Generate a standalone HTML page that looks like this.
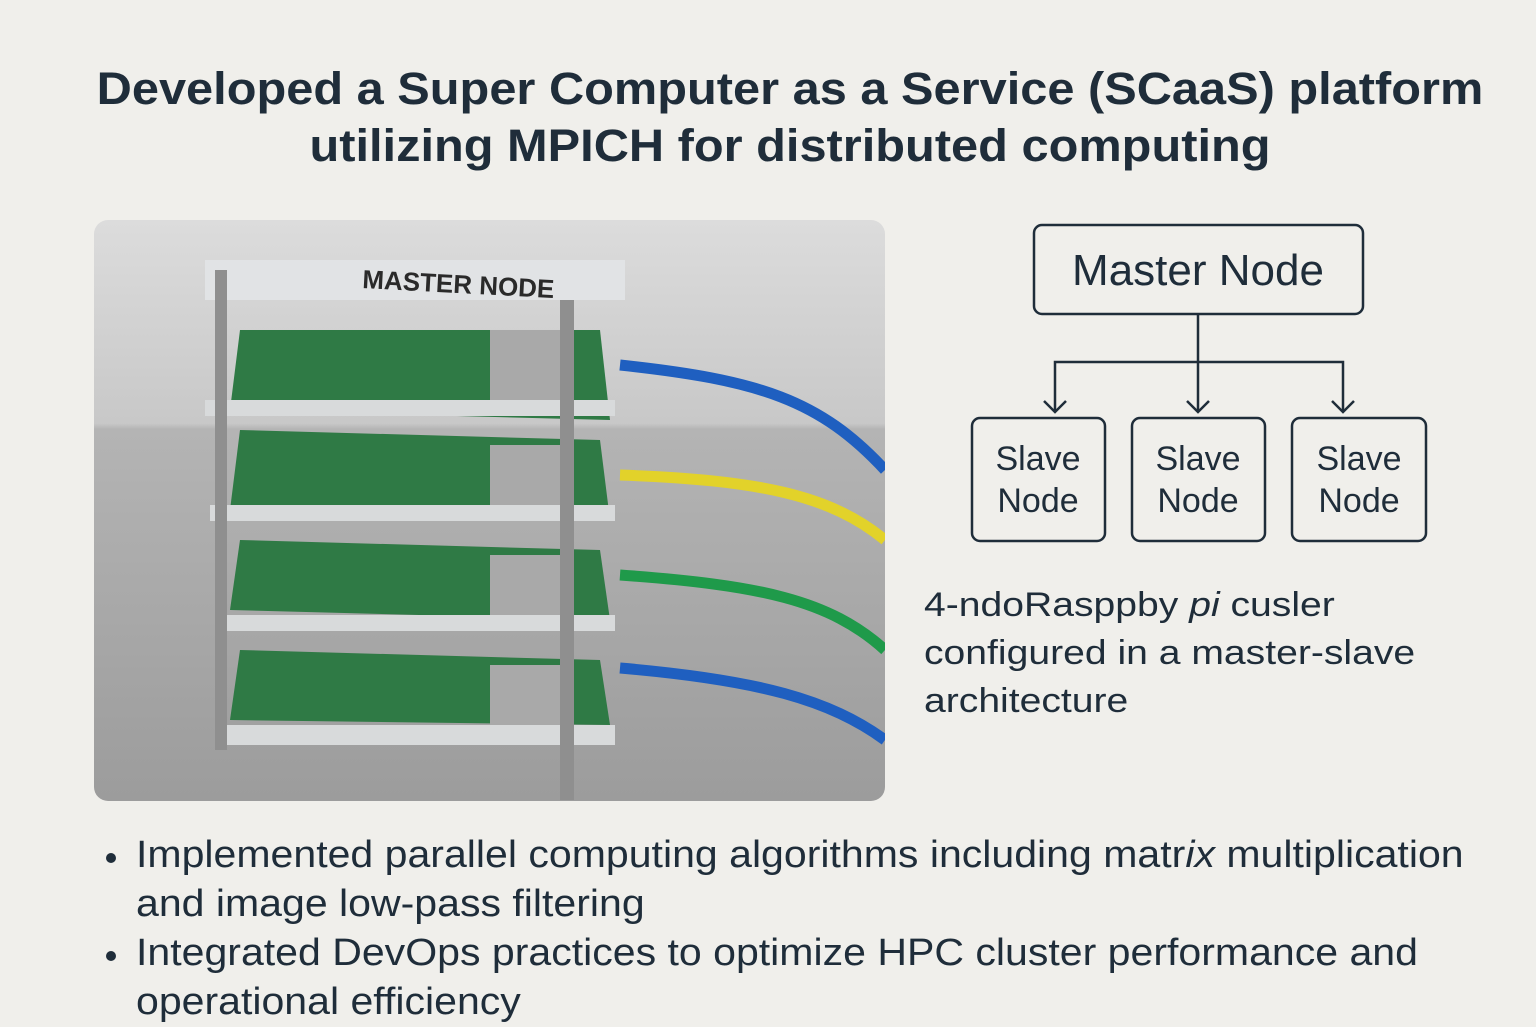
<!DOCTYPE html>
<html><head><meta charset="utf-8"><style>
html,body{margin:0;padding:0}
body{width:1536px;height:1024px;background:#f0efeb;position:relative;overflow:hidden;font-family:"Liberation Sans","DejaVu Sans",sans-serif;color:#1f2d3a}
.t{position:absolute;left:0;width:1580px;text-align:center;font-weight:bold;font-size:45px;line-height:57px;top:60px;transform:scaleX(1.083);transform-origin:790px 0}
.txt{position:absolute;white-space:nowrap;transform-origin:0 0}
</style></head><body>
<div class="t">Developed a Super Computer as a Service (SCaaS) platform<br>utilizing MPICH for distributed computing</div>

<svg style="position:absolute;left:0;top:0" width="1536" height="1024">
<defs>
<linearGradient id="bg" x1="0" y1="0" x2="0" y2="1">
<stop offset="0" stop-color="#dcdcdc"/><stop offset="0.35" stop-color="#c8c8c8"/><stop offset="0.36" stop-color="#b4b4b4"/><stop offset="1" stop-color="#9c9c9c"/></linearGradient>
<clipPath id="c"><rect x="94" y="220" width="791" height="581" rx="14"/></clipPath>
</defs>
<g clip-path="url(#c)">
<rect x="94" y="220" width="791" height="581" fill="url(#bg)"/>
<path d="M620 365 C760 380 820 400 885 470" stroke="#1f5fc0" stroke-width="11" fill="none"/>
<path d="M620 475 C760 480 830 495 885 540" stroke="#e2d22a" stroke-width="11" fill="none"/>
<path d="M620 575 C760 585 830 600 885 650" stroke="#1f9a4a" stroke-width="11" fill="none"/>
<path d="M620 668 C760 680 830 700 885 740" stroke="#1f5fc0" stroke-width="11" fill="none"/>
<g>
<rect x="205" y="260" width="420" height="40" fill="#e4e6e8" opacity="0.8"/>
<polygon points="240,330 600,330 610,420 230,410" fill="#2f7a45"/>
<polygon points="240,430 600,440 610,520 230,510" fill="#2f7a45"/>
<polygon points="240,540 600,550 610,620 230,610" fill="#2f7a45"/>
<polygon points="240,650 600,660 610,725 230,720" fill="#2f7a45"/>
<rect x="490" y="330" width="70" height="70" fill="#a9a9a9"/>
<rect x="490" y="445" width="70" height="70" fill="#a9a9a9"/>
<rect x="490" y="555" width="70" height="70" fill="#a9a9a9"/>
<rect x="490" y="665" width="70" height="65" fill="#a9a9a9"/>
<rect x="205" y="400" width="410" height="16" fill="#d8dadb"/>
<rect x="210" y="505" width="405" height="16" fill="#d8dadb"/>
<rect x="215" y="615" width="400" height="16" fill="#d8dadb"/>
<rect x="225" y="725" width="390" height="20" fill="#d8dadb"/>
<rect x="215" y="270" width="12" height="480" fill="#8f8f8f"/>
<rect x="560" y="300" width="14" height="500" fill="#8f8f8f"/>
<text x="362" y="288" font-size="26" font-weight="bold" fill="#2a2a2a" font-family="Liberation Sans,sans-serif" transform="rotate(3 362 288)">MASTER NODE</text>
</g>
</g>
<g fill="none" stroke="#1f2d3a" stroke-width="2.5">
<rect x="1034" y="225" width="329" height="89" rx="8"/>
<rect x="972" y="418" width="133" height="123" rx="8"/>
<rect x="1132" y="418" width="133" height="123" rx="8"/>
<rect x="1292" y="418" width="134" height="123" rx="8"/>
<path d="M1198 314 V412 M1055 412 V362 H1343 V412"/>
<path d="M1044 401 L1055 412 L1066 401 M1187 401 L1198 412 L1209 401 M1332 401 L1343 412 L1354 401"/>
</g>
<g font-family="Liberation Sans,sans-serif" fill="#1f2d3a" text-anchor="middle">
<text x="1198" y="285" font-size="44">Master Node</text>
<text x="1038" y="470" font-size="34">Slave</text><text x="1038" y="512" font-size="34">Node</text>
<text x="1198" y="470" font-size="34">Slave</text><text x="1198" y="512" font-size="34">Node</text>
<text x="1359" y="470" font-size="34">Slave</text><text x="1359" y="512" font-size="34">Node</text>
</g>
<circle cx="111" cy="858" r="5" fill="#1f2d3a"/>
<circle cx="111" cy="956" r="5" fill="#1f2d3a"/>
</svg>
<div class="txt" style="left:924px;top:581px;font-size:34px;line-height:48px;transform:scaleX(1.15)">4-ndoRasppby <i>pi</i> cusler<br>configured in a master-slave<br>architecture</div>
<div class="txt" style="left:136px;top:831px;font-size:38px;line-height:49px;transform:scaleX(1.08)">Implemented parallel computing algorithms including matr<i>ix</i> multiplication<br>and image low-pass filtering<br>Integrated DevOps practices to optimize HPC cluster performance and<br>operational efficiency</div>
</body></html>
